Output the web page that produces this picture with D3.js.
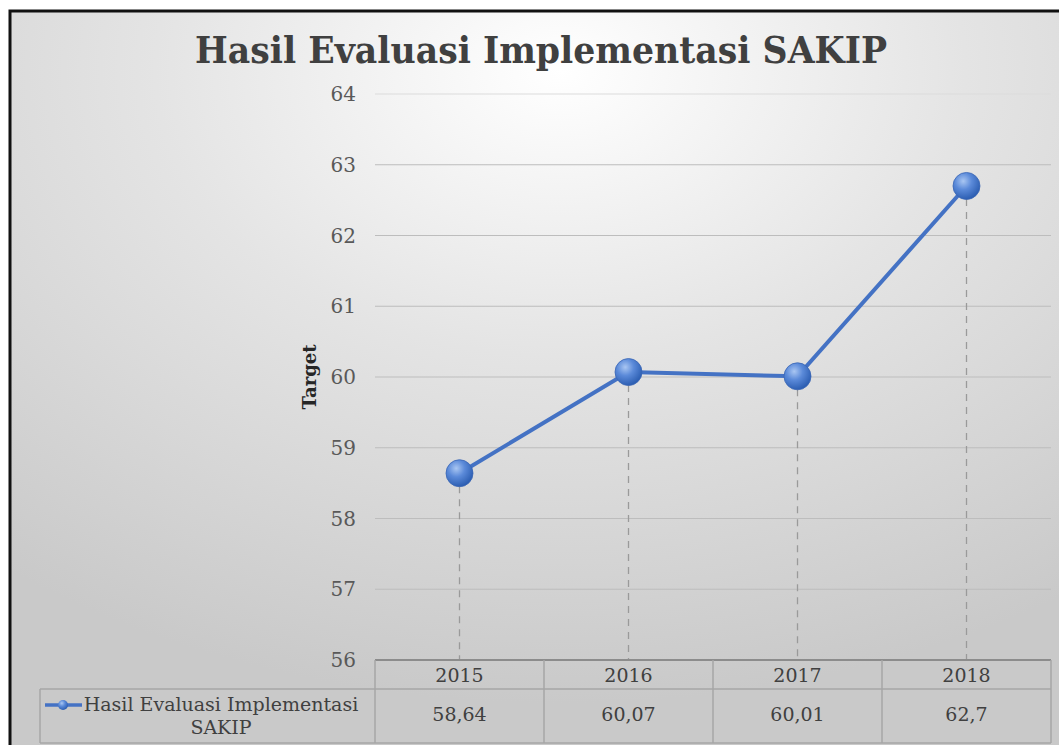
<!DOCTYPE html>
<html>
<head>
<meta charset="utf-8">
<script src="https://cdn.jsdelivr.net/npm/d3@7"></script>
<style>
  body { margin: 0; background: #fff; }
  svg { display: block; }
</style>
</head>
<body>
<div id="container"></div>
<script>
/* DATA */
const years = ["2015", "2016", "2017", "2018"];
const values = [58.64, 60.07, 60.01, 62.7];
const valueLabels = ["58,64", "60,07", "60,01", "62,7"];
const yTicks = [56, 57, 58, 59, 60, 61, 62, 63, 64];
const seriesName = ["Hasil Evaluasi Implementasi", "SAKIP"];

/* CONSTANTS */
const width = 1059, height = 745;
const plot = {left: 375, right: 1051, top: 94, bottom: 660};
const row1 = 29, row2 = 54;
const font = "'DejaVu Serif', serif";

const svg = d3.select("#container").append("svg")
  .attr("width", width)
  .attr("height", height);

const defs = svg.append("defs");
const bg = defs.append("radialGradient").attr("id", "bg")
  .attr("cx", "52%").attr("cy", "8%").attr("r", "85%");
bg.append("stop").attr("offset", "0%").attr("stop-color", "#ffffff");
bg.append("stop").attr("offset", "45%").attr("stop-color", "#e4e4e4");
bg.append("stop").attr("offset", "100%").attr("stop-color", "#c9c9c9");

const ball = defs.append("radialGradient").attr("id", "ball")
  .attr("cx", "38%").attr("cy", "32%").attr("r", "70%");
ball.append("stop").attr("offset", "0%").attr("stop-color", "#a9c6f2");
ball.append("stop").attr("offset", "45%").attr("stop-color", "#5b8ad9");
ball.append("stop").attr("offset", "100%").attr("stop-color", "#2a5cb0");

// chart area with black frame
svg.append("rect")
  .attr("x", 10).attr("y", 11)
  .attr("width", width).attr("height", height)
  .attr("fill", "url(#bg)")
  .attr("stroke", "#111").attr("stroke-width", 3);

/* TITLE */
svg.append("text")
  .attr("x", 541).attr("y", 63)
  .attr("text-anchor", "middle")
  .attr("font-family", font).attr("font-weight", "bold")
  .attr("font-size", 37)
  .attr("fill", "#404040")
  .attr("textLength", 692).attr("lengthAdjust", "spacingAndGlyphs")
  .text("Hasil Evaluasi Implementasi SAKIP");

/* SCALES */
const xScale = d3.scaleBand()
  .domain(years)
  .range([plot.left, plot.right]);

const yScale = d3.scaleLinear()
  .domain([56, 64])
  .range([plot.bottom, plot.top]);

/* GRID */
svg.append("g").selectAll("line")
  .data(yTicks.filter(d => d > 56))
  .join("line")
  .attr("x1", plot.left).attr("x2", plot.right)
  .attr("y1", d => yScale(d)).attr("y2", d => yScale(d))
  .attr("stroke", d => d === 64 ? "#dcdcdc" : "#bdbdbd")
  .attr("stroke-width", 1.2);

// y tick labels
svg.append("g").selectAll("text")
  .data(yTicks)
  .join("text")
  .attr("x", 356)
  .attr("y", d => yScale(d) + 7)
  .attr("text-anchor", "end")
  .attr("font-family", font).attr("font-size", 20)
  .attr("fill", "#595959")
  .text(d => d);

// y axis title
svg.append("text")
  .attr("transform", `translate(316, ${yScale(60)}) rotate(-90)`)
  .attr("text-anchor", "middle")
  .attr("font-family", font).attr("font-weight", "bold")
  .attr("font-size", 18)
  .attr("fill", "#262626")
  .text("Target");

/* DROP LINES */
const cx = d => xScale(d) + xScale.bandwidth() / 2;
svg.append("g").selectAll("line")
  .data(years)
  .join("line")
  .attr("x1", d => cx(d)).attr("x2", d => cx(d))
  .attr("y1", (d, i) => yScale(values[i])).attr("y2", plot.bottom)
  .attr("stroke", "#9a9a9a").attr("stroke-width", 1.3)
  .attr("stroke-dasharray", "7,6");

/* LINE */
const line = d3.line()
  .x((d, i) => cx(years[i]))
  .y(d => yScale(d));

svg.append("path")
  .datum(values)
  .attr("d", line)
  .attr("fill", "none")
  .attr("stroke", "#4472c4")
  .attr("stroke-width", 4);

svg.append("g").selectAll("circle")
  .data(values)
  .join("circle")
  .attr("cx", (d, i) => cx(years[i]))
  .attr("cy", d => yScale(d))
  .attr("r", 13.5)
  .attr("fill", "url(#ball)")
  .attr("stroke", "#3a66b5").attr("stroke-width", 0.8);

/* DATA TABLE */
const tbl = svg.append("g");
const tTop = plot.bottom, tMid = tTop + row1, tBot = tMid + row2;
const gridColor = "#a6a6a6";

// horizontal lines
tbl.append("line").attr("x1", plot.left).attr("x2", plot.right)
  .attr("y1", tTop).attr("y2", tTop).attr("stroke", "#8c8c8c").attr("stroke-width", 2);
tbl.append("line").attr("x1", 40).attr("x2", plot.right)
  .attr("y1", tMid).attr("y2", tMid).attr("stroke", gridColor).attr("stroke-width", 1.5);
tbl.append("line").attr("x1", 40).attr("x2", plot.right)
  .attr("y1", tBot).attr("y2", tBot).attr("stroke", gridColor).attr("stroke-width", 1.5);
// vertical lines
tbl.append("line").attr("x1", 40).attr("x2", 40)
  .attr("y1", tMid).attr("y2", tBot).attr("stroke", gridColor).attr("stroke-width", 1.5);
tbl.selectAll(".vline")
  .data(years.concat(["end"]))
  .join("line")
  .attr("class", "vline")
  .attr("x1", (d, i) => i < years.length ? xScale(d) : plot.right)
  .attr("x2", (d, i) => i < years.length ? xScale(d) : plot.right)
  .attr("y1", tTop).attr("y2", tBot)
  .attr("stroke", gridColor).attr("stroke-width", 1.5);

tbl.selectAll(".year")
  .data(years)
  .join("text")
  .attr("class", "year")
  .attr("x", d => cx(d)).attr("y", tTop + 22)
  .attr("text-anchor", "middle")
  .attr("font-family", font).attr("font-size", 19)
  .attr("fill", "#404040")
  .text(d => d);

tbl.selectAll(".val")
  .data(valueLabels)
  .join("text")
  .attr("class", "val")
  .attr("x", (d, i) => cx(years[i])).attr("y", tMid + 32)
  .attr("text-anchor", "middle")
  .attr("font-family", font).attr("font-size", 19)
  .attr("fill", "#404040")
  .text(d => d);

// legend key
tbl.append("line").attr("x1", 45).attr("x2", 82)
  .attr("y1", tMid + 16).attr("y2", tMid + 16)
  .attr("stroke", "#4472c4").attr("stroke-width", 3.5);
tbl.append("circle").attr("cx", 63).attr("cy", tMid + 16).attr("r", 5)
  .attr("fill", "url(#ball)");
tbl.selectAll(".leg")
  .data(seriesName)
  .join("text")
  .attr("class", "leg")
  .attr("x", 221).attr("y", (d, i) => tMid + 22 + i * 23)
  .attr("text-anchor", "middle")
  .attr("font-family", font).attr("font-size", 19)
  .attr("fill", "#404040")
  .text(d => d);
</script>
</body>
</html>
